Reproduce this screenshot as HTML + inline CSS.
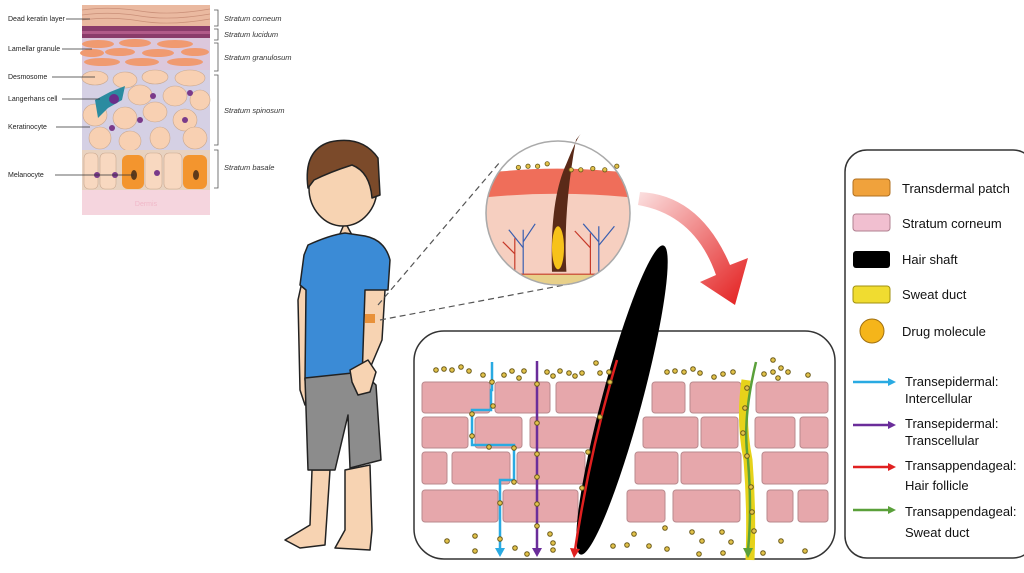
<!DOCTYPE html>
<html><head><meta charset="utf-8"><style>
html,body{margin:0;padding:0;background:#fff;width:1024px;height:573px;overflow:hidden}
svg{display:block}
text{font-family:"Liberation Sans",sans-serif}
</style></head><body>
<svg width="1024" height="573" viewBox="0 0 1024 573" xmlns="http://www.w3.org/2000/svg">
<defs>
<clipPath id="circ"><circle cx="541" cy="211" r="60"/></clipPath>
<linearGradient id="rg" x1="0" y1="0" x2="1" y2="1"><stop offset="0" stop-color="#fbe0e0"/><stop offset="1" stop-color="#e31b1b"/></linearGradient>
</defs>
<!-- skin layers diagram -->
<rect x="82" y="5" width="128" height="21" fill="#eab9a0"/>
<g stroke="#c98f78" stroke-width="0.7" fill="none">
<path d="M82 10 Q110 6 140 11 T210 9"/><path d="M82 15 Q110 11 140 16 T210 14"/><path d="M82 20 Q110 16 140 21 T210 19"/></g>
<rect x="82" y="26" width="128" height="12" fill="#8a3c6a"/>
<rect x="82" y="31" width="128" height="3" fill="#b05a88"/>
<rect x="82" y="38" width="128" height="32" fill="#dcc8dc"/>
<g fill="#f09a70">
<ellipse cx="98" cy="44" rx="16" ry="4"/><ellipse cx="135" cy="43" rx="16" ry="4"/><ellipse cx="175" cy="44" rx="18" ry="4"/>
<ellipse cx="92" cy="53" rx="12" ry="4"/><ellipse cx="120" cy="52" rx="15" ry="4"/><ellipse cx="158" cy="53" rx="16" ry="4"/><ellipse cx="195" cy="52" rx="14" ry="4"/>
<ellipse cx="102" cy="62" rx="18" ry="4"/><ellipse cx="142" cy="62" rx="17" ry="4"/><ellipse cx="185" cy="62" rx="18" ry="4"/></g>
<rect x="82" y="70" width="128" height="80" fill="#d5d0e4"/>
<g fill="#f8d0b2" stroke="#c9a890" stroke-width="0.6">
<ellipse cx="95" cy="78" rx="13" ry="7"/><ellipse cx="125" cy="80" rx="12" ry="8"/><ellipse cx="155" cy="77" rx="13" ry="7"/><ellipse cx="190" cy="78" rx="15" ry="8"/>
<ellipse cx="140" cy="95" rx="12" ry="10"/><ellipse cx="175" cy="96" rx="12" ry="10"/><ellipse cx="200" cy="100" rx="10" ry="10"/>
<ellipse cx="95" cy="115" rx="12" ry="11"/><ellipse cx="125" cy="118" rx="12" ry="11"/><ellipse cx="155" cy="112" rx="12" ry="10"/><ellipse cx="185" cy="120" rx="12" ry="11"/>
<ellipse cx="100" cy="138" rx="11" ry="11"/><ellipse cx="130" cy="141" rx="11" ry="10"/><ellipse cx="160" cy="138" rx="10" ry="11"/><ellipse cx="195" cy="138" rx="12" ry="11"/></g>
<path d="M95 100 L110 92 L125 86 L122 100 L108 108 L98 118 Z" fill="#2b8ba0"/>
<circle cx="114" cy="99" r="5" fill="#6a2d8a"/>
<rect x="82" y="150" width="128" height="40" fill="#e8d2c0"/>
<g fill="#f8d8c0" stroke="#c9a890" stroke-width="0.6">
<rect x="84" y="153" width="14" height="36" rx="5"/><rect x="100" y="153" width="16" height="36" rx="5"/><rect x="145" y="153" width="17" height="36" rx="5"/><rect x="164" y="153" width="18" height="36" rx="5"/></g>
<rect x="122" y="155" width="22" height="34" rx="6" fill="#f3952e"/><rect x="183" y="155" width="24" height="34" rx="6" fill="#f3952e"/>
<g fill="#7a3a8a"><circle cx="97" cy="175" r="3"/><circle cx="115" cy="175" r="3"/><circle cx="157" cy="173" r="3"/><circle cx="112" cy="128" r="3"/><circle cx="140" cy="120" r="3"/><circle cx="153" cy="96" r="3"/><circle cx="185" cy="120" r="3"/><circle cx="190" cy="93" r="3"/></g>
<g fill="#5e3a1a"><ellipse cx="134" cy="175" rx="3" ry="5"/><ellipse cx="196" cy="175" rx="3" ry="5"/></g>
<rect x="82" y="190" width="128" height="25" fill="#f5d5de"/>
<text x="146" y="206" font-size="7" fill="#f0b8c8" text-anchor="middle">Dermis</text>
<g font-size="7" fill="#222">
<text x="8" y="21">Dead keratin layer</text><text x="8" y="51">Lamellar granule</text><text x="8" y="79">Desmosome</text>
<text x="8" y="101">Langerhans cell</text><text x="8" y="129">Keratinocyte</text><text x="8" y="177">Melanocyte</text></g>
<g stroke="#333" stroke-width="0.7">
<line x1="66" y1="19" x2="90" y2="19"/><line x1="62" y1="49" x2="92" y2="49"/><line x1="52" y1="77" x2="95" y2="77"/><line x1="62" y1="99" x2="100" y2="99"/><line x1="56" y1="127" x2="90" y2="127"/><line x1="55" y1="175" x2="134" y2="175"/></g>
<g stroke="#555" stroke-width="0.8" fill="none">
<path d="M214 10 h4 v16 h-4"/><path d="M214 29 h4 v11 h-4"/><path d="M214 43 h4 v28 h-4"/><path d="M214 75 h4 v70 h-4"/><path d="M214 150 h4 v38 h-4"/></g>
<g font-size="7.5" font-style="italic" fill="#333">
<text x="224" y="21">Stratum corneum</text><text x="224" y="37">Stratum lucidum</text><text x="224" y="60">Stratum granulosum</text><text x="224" y="113">Stratum spinosum</text><text x="224" y="170">Stratum basale</text></g>

<!-- boy -->
<g stroke="#222" stroke-width="1.5" stroke-linejoin="round">
<path d="M312 470 L310 525 L285 540 L300 548 L325 545 L330 470 Z" fill="#f7d3b2"/>
<path d="M345 470 L345 530 L335 548 L370 550 L372 530 L370 465 Z" fill="#f7d3b2"/>
<path d="M345 222 L333 250 L360 250 Z" fill="#f7d3b2"/>
<path d="M305 268 L298 300 L300 390 L305 405 L312 380 L315 300 Z" fill="#f7d3b2"/>
<path d="M365 270 L385 290 L382 340 L365 380 L350 375 L355 340 Z" fill="#f7d3b2"/>
<path d="M308 245 Q330 235 345 233 L365 236 Q385 240 390 260 L388 290 L365 290 L362 380 L305 380 L306 290 L300 285 L304 255 Z" fill="#3b8bd6"/>
<path d="M305 378 L362 372 L376 385 L381 460 L350 468 L348 415 L335 470 L308 470 Z" fill="#8c8c8c"/>
<path d="M350 370 L368 360 L376 372 L370 392 L358 395 L352 382 Z" fill="#f7d3b2"/>
<ellipse cx="343" cy="188" rx="34" ry="38" fill="#f7d3b2"/>
<path d="M308 188 Q303 150 330 142 Q362 135 378 158 L380 195 L372 198 Q370 172 352 165 Q330 172 314 180 Z" fill="#7b4a2a"/>
</g>
<rect x="365" y="314" width="10" height="9" fill="#e8913a"/>
<!-- dashed lines -->
<g stroke="#555" stroke-width="1.2" stroke-dasharray="6,4"><line x1="378" y1="305" x2="500" y2="162"/><line x1="380" y1="320" x2="575" y2="283"/></g>

<!-- magnifier circle -->
<g transform="translate(558 213) scale(1.2) translate(-541 -211)">
<g clip-path="url(#circ)">
<rect x="480" y="150" width="122" height="122" fill="#fff"/>
<rect x="480" y="176" width="122" height="100" fill="#f6cfc0"/>
<path d="M480 178 Q540 170 602 178 L602 198 Q540 192 480 198 Z" fill="#ef6e5a"/>
<rect x="480" y="262" width="122" height="14" fill="#e8d08a"/>
<g stroke="#3a5fb0" stroke-width="1" fill="none"><path d="M512 262 V225 M512 240 L500 225 M512 235 L522 220"/><path d="M575 262 V222 M575 235 L562 220 M575 238 L588 222"/></g>
<g stroke="#c63a2a" stroke-width="1" fill="none"><path d="M505 262 V232 M505 245 L495 235"/><path d="M568 262 V228 M568 240 L555 226"/><path d="M488 262 H600"/></g>
</g>
<path d="M536 260 Q534 200 548 170 Q556 150 560 145 L556 150 Q545 210 548 260 Z" fill="#5a2a18"/>
<ellipse cx="541" cy="240" rx="5" ry="18" fill="#f7c21a"/>
<g fill="#e2c24a" stroke="#6a5a1a" stroke-width="0.7"><circle cx="508" cy="173" r="1.8"/><circle cx="516" cy="172" r="1.8"/><circle cx="524" cy="172" r="1.8"/><circle cx="532" cy="170" r="1.8"/><circle cx="552" cy="175" r="1.8"/><circle cx="560" cy="175" r="1.8"/><circle cx="570" cy="174" r="1.8"/><circle cx="580" cy="175" r="1.8"/><circle cx="590" cy="172" r="1.8"/></g>
<circle cx="541" cy="211" r="60" fill="none" stroke="#aaa" stroke-width="1.3"/>
</g>

<!-- red arrow -->
<path d="M640 192 Q700 195 730 265 L748 258 L735 305 L700 282 L716 275 Q695 215 638 205 Z" fill="url(#rg)"/>

<!-- bottom panel -->
<rect x="414" y="331" width="421" height="228" rx="30" fill="#fff" stroke="#333" stroke-width="1.5"/>
<g fill="#e6a7ab" stroke="#b88a8e" stroke-width="1">
<rect x="422" y="382" width="68" height="31" rx="3"/><rect x="495" y="382" width="55" height="31" rx="3"/><rect x="556" y="382" width="51" height="31" rx="3"/><rect x="652" y="382" width="33" height="31" rx="3"/><rect x="690" y="382" width="51" height="31" rx="3"/><rect x="756" y="382" width="72" height="31" rx="3"/>
<rect x="422" y="417" width="46" height="31" rx="3"/><rect x="475" y="417" width="47" height="31" rx="3"/><rect x="530" y="417" width="67" height="31" rx="3"/><rect x="643" y="417" width="55" height="31" rx="3"/><rect x="701" y="417" width="37" height="31" rx="3"/><rect x="755" y="417" width="40" height="31" rx="3"/><rect x="800" y="417" width="28" height="31" rx="3"/>
<rect x="422" y="452" width="25" height="32" rx="3"/><rect x="452" y="452" width="58" height="32" rx="3"/><rect x="517" y="452" width="68" height="32" rx="3"/><rect x="635" y="452" width="43" height="32" rx="3"/><rect x="681" y="452" width="60" height="32" rx="3"/><rect x="762" y="452" width="66" height="32" rx="3"/>
<rect x="422" y="490" width="76" height="32" rx="3"/><rect x="503" y="490" width="75" height="32" rx="3"/><rect x="627" y="490" width="38" height="32" rx="3"/><rect x="673" y="490" width="67" height="32" rx="3"/><rect x="767" y="490" width="26" height="32" rx="3"/><rect x="798" y="490" width="30" height="32" rx="3"/></g>
<!-- sweat duct -->
<path d="M746 380 Q740 420 748 460 Q752 510 750 560" stroke="#e6d21a" stroke-width="9" fill="none"/>
<path d="M756 362 Q742 420 748 460 Q752 510 748 550" stroke="#5aa03a" stroke-width="2.5" fill="none"/>
<path d="M743 548 L753 548 L748 558 Z" fill="#5aa03a"/>
<!-- hair shaft -->
<ellipse cx="622" cy="400" rx="20" ry="160" transform="rotate(15 622 400)" fill="#000"/>
<!-- paths -->
<path d="M492 362 V390 H491 V410 H472 V445 H514 V480 H500 V548" stroke="#29aae2" stroke-width="2.5" fill="none"/>
<path d="M495 548 L505 548 L500 557 Z" fill="#29aae2"/>
<path d="M537 361 V548" stroke="#6a2d9a" stroke-width="2.5" fill="none"/>
<path d="M532 548 L542 548 L537 557 Z" fill="#6a2d9a"/>
<path d="M617 360 Q590 450 575 550" stroke="#e02020" stroke-width="2.5" fill="none"/>
<path d="M570 548 L580 549 L574 558 Z" fill="#e02020"/>
<g fill="#e2c24a" stroke="#6a5a1a" stroke-width="1">
<circle cx="436" cy="370" r="2.3"/><circle cx="444" cy="369" r="2.3"/><circle cx="452" cy="370" r="2.3"/><circle cx="461" cy="367" r="2.3"/><circle cx="469" cy="371" r="2.3"/><circle cx="483" cy="375" r="2.3"/><circle cx="504" cy="375" r="2.3"/><circle cx="512" cy="371" r="2.3"/><circle cx="519" cy="378" r="2.3"/><circle cx="524" cy="371" r="2.3"/><circle cx="547" cy="372" r="2.3"/><circle cx="553" cy="376" r="2.3"/><circle cx="560" cy="371" r="2.3"/><circle cx="569" cy="373" r="2.3"/><circle cx="575" cy="376" r="2.3"/><circle cx="582" cy="373" r="2.3"/><circle cx="596" cy="363" r="2.3"/><circle cx="600" cy="373" r="2.3"/><circle cx="609" cy="372" r="2.3"/><circle cx="667" cy="372" r="2.3"/><circle cx="675" cy="371" r="2.3"/><circle cx="684" cy="372" r="2.3"/><circle cx="693" cy="369" r="2.3"/><circle cx="700" cy="373" r="2.3"/><circle cx="714" cy="377" r="2.3"/><circle cx="723" cy="374" r="2.3"/><circle cx="733" cy="372" r="2.3"/><circle cx="764" cy="374" r="2.3"/><circle cx="773" cy="372" r="2.3"/><circle cx="773" cy="360" r="2.3"/><circle cx="781" cy="368" r="2.3"/><circle cx="788" cy="372" r="2.3"/><circle cx="778" cy="378" r="2.3"/><circle cx="808" cy="375" r="2.3"/>
<circle cx="492" cy="382" r="2.3"/><circle cx="493" cy="406" r="2.3"/><circle cx="472" cy="414" r="2.3"/><circle cx="472" cy="436" r="2.3"/><circle cx="489" cy="447" r="2.3"/><circle cx="514" cy="448" r="2.3"/><circle cx="514" cy="482" r="2.3"/><circle cx="500" cy="503" r="2.3"/><circle cx="500" cy="539" r="2.3"/>
<circle cx="537" cy="384" r="2.3"/><circle cx="537" cy="423" r="2.3"/><circle cx="537" cy="454" r="2.3"/><circle cx="537" cy="477" r="2.3"/><circle cx="537" cy="504" r="2.3"/><circle cx="537" cy="526" r="2.3"/>
<circle cx="610" cy="382" r="2.3"/><circle cx="600" cy="417" r="2.3"/><circle cx="588" cy="452" r="2.3"/><circle cx="582" cy="488" r="2.3"/>
<circle cx="747" cy="388" r="2.3"/><circle cx="745" cy="408" r="2.3"/><circle cx="743" cy="433" r="2.3"/><circle cx="747" cy="456" r="2.3"/><circle cx="751" cy="487" r="2.3"/><circle cx="752" cy="512" r="2.3"/><circle cx="754" cy="531" r="2.3"/>
<circle cx="447" cy="541" r="2.3"/><circle cx="475" cy="536" r="2.3"/><circle cx="475" cy="551" r="2.3"/><circle cx="515" cy="548" r="2.3"/><circle cx="527" cy="554" r="2.3"/><circle cx="550" cy="534" r="2.3"/><circle cx="553" cy="543" r="2.3"/><circle cx="553" cy="550" r="2.3"/><circle cx="613" cy="546" r="2.3"/><circle cx="627" cy="545" r="2.3"/><circle cx="634" cy="534" r="2.3"/><circle cx="649" cy="546" r="2.3"/><circle cx="667" cy="549" r="2.3"/><circle cx="665" cy="528" r="2.3"/><circle cx="692" cy="532" r="2.3"/><circle cx="702" cy="541" r="2.3"/><circle cx="722" cy="532" r="2.3"/><circle cx="699" cy="554" r="2.3"/><circle cx="723" cy="553" r="2.3"/><circle cx="731" cy="542" r="2.3"/><circle cx="763" cy="553" r="2.3"/><circle cx="781" cy="541" r="2.3"/><circle cx="805" cy="551" r="2.3"/></g>

<!-- legend -->
<rect x="845" y="150" width="190" height="408" rx="22" fill="#fff" stroke="#333" stroke-width="1.5"/>
<rect x="853" y="179" width="37" height="17" rx="3" fill="#f0a23c" stroke="#b07020"/>
<rect x="853" y="214" width="37" height="17" rx="3" fill="#f1bfd0" stroke="#b08090"/>
<rect x="853" y="251" width="37" height="17" rx="3" fill="#000"/>
<rect x="853" y="286" width="37" height="17" rx="3" fill="#f0dc30" stroke="#a09010"/>
<circle cx="872" cy="331" r="12" fill="#f5b51a" stroke="#a07010"/>
<g font-size="13" fill="#111">
<text x="902" y="193">Transdermal patch</text><text x="902" y="228">Stratum corneum</text><text x="902" y="264">Hair shaft</text><text x="902" y="299">Sweat duct</text><text x="902" y="336">Drug molecule</text>
<text x="905" y="386">Transepidermal:</text><text x="905" y="403">Intercellular</text>
<text x="905" y="428">Transepidermal:</text><text x="905" y="445">Transcellular</text>
<text x="905" y="470">Transappendageal:</text><text x="905" y="490">Hair follicle</text>
<text x="905" y="516">Transappendageal:</text><text x="905" y="537">Sweat duct</text></g>
<g stroke-width="2.5"><line x1="853" y1="382" x2="890" y2="382" stroke="#29aae2"/><line x1="853" y1="425" x2="890" y2="425" stroke="#6a2d9a"/><line x1="853" y1="467" x2="890" y2="467" stroke="#e02020"/><line x1="853" y1="510" x2="890" y2="510" stroke="#5aa03a"/></g>
<path d="M888 378 L896 382 L888 386 Z" fill="#29aae2"/><path d="M888 421 L896 425 L888 429 Z" fill="#6a2d9a"/><path d="M888 463 L896 467 L888 471 Z" fill="#e02020"/><path d="M888 506 L896 510 L888 514 Z" fill="#5aa03a"/>
</svg>
</body></html>
